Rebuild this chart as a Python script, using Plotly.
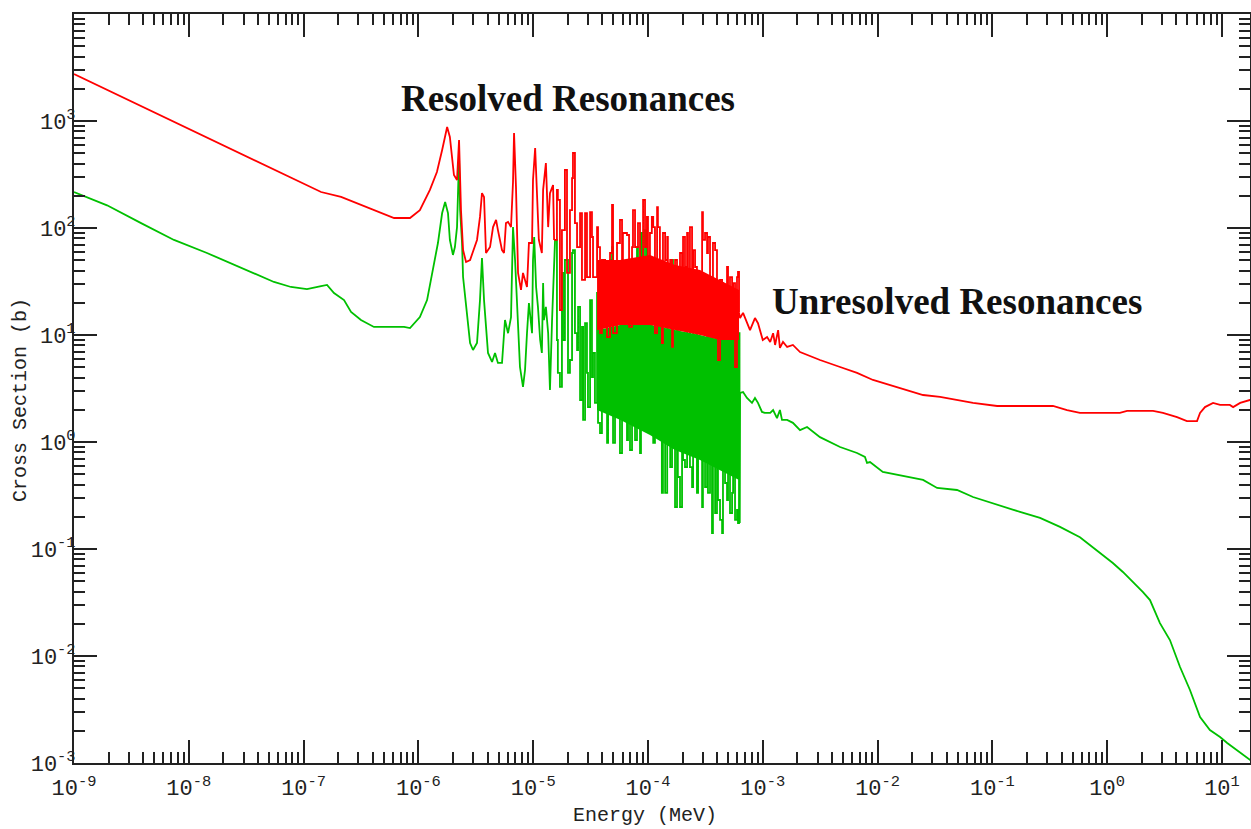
import plotly.graph_objects as go

# ---------------- data ----------------
# Total cross section (red), energy in MeV, cross section in barns
e_total = [
    1e-9, 1.42e-7, 2.12e-7, 4.10e-7, 6.14e-7, 8.45e-7, 1.03e-6, 1.26e-6, 1.45e-6, 1.61e-6,
    1.78e-6, 1.88e-6, 1.96e-6, 2.04e-6, 2.17e-6, 2.26e-6, 2.35e-6, 2.45e-6, 2.60e-6, 2.82e-6,
    3.24e-6, 3.44e-6, 3.58e-6, 3.73e-6, 3.88e-6, 4.21e-6, 4.47e-6, 4.75e-6, 4.93e-6, 5.35e-6,
    5.57e-6, 5.79e-6, 6.04e-6, 6.41e-6, 6.67e-6, 6.81e-6, 7.08e-6, 7.38e-6, 7.83e-6, 8.15e-6,
    8.83e-6, 9.18e-6, 9.77e-6, 9.96e-6, 1.04e-5, 1.08e-5, 1.12e-5, 1.19e-5, 1.22e-5, 1.29e-5,
    1.35e-5, 1.40e-5, 1.49e-5, 1.52e-5, 1.61e-5,
    1.64e-5, 1.71e-5, 1.78e-5, 1.89e-5, 1.97e-5, 2.09e-5, 2.18e-5, 2.22e-5, 2.31e-5, 2.41e-5,
    2.56e-5, 2.66e-5, 2.83e-5, 2.94e-5, 3.13e-5, 3.25e-5, 3.32e-5, 3.60e-5, 3.67e-5, 3.82e-5,
    3.97e-5, 4.23e-5, 4.40e-5, 4.67e-5, 4.86e-5, 4.96e-5, 5.37e-5, 5.70e-5, 5.94e-5, 6.05e-5,
    6.56e-5, 6.84e-5, 7.26e-5, 7.40e-5, 7.71e-5, 8.18e-5, 8.52e-5,
    9.06e-5, 9.42e-5, 9.79e-5, 1.00e-4, 1.04e-4, 1.08e-4, 1.11e-4, 1.15e-4, 1.20e-4, 1.22e-4,
    1.27e-4, 1.32e-4, 1.35e-4, 1.41e-4, 1.47e-4, 1.49e-4, 1.56e-4, 1.62e-4, 1.65e-4, 1.72e-4,
    1.79e-4, 1.82e-4, 1.90e-4, 1.98e-4, 2.02e-4, 2.10e-4, 2.19e-4, 2.23e-4, 2.32e-4, 2.42e-4,
    2.47e-4, 2.57e-4, 2.67e-4, 2.84e-4, 2.96e-4, 3.01e-4, 3.14e-4, 3.27e-4, 3.33e-4, 3.47e-4,
    3.61e-4, 3.68e-4, 3.84e-4, 3.99e-4, 4.07e-4, 4.24e-4, 4.42e-4, 4.50e-4, 4.69e-4, 4.88e-4,
    4.98e-4, 5.18e-4, 5.40e-4, 5.51e-4, 5.73e-4, 5.96e-4, 6.08e-4, 6.21e-4,
    6.34e-4, 6.73e-4, 7.28e-4, 7.74e-4, 8.55e-4, 9.08e-4, 1.00e-3, 1.09e-3, 1.16e-3, 1.23e-3,
    1.28e-3, 1.36e-3, 1.41e-3, 1.50e-3, 1.63e-3, 1.83e-3, 2.11e-3, 3.15e-3, 4.71e-3, 6.62e-3,
    9.12e-3, 1.28e-2, 1.80e-2, 2.49e-2, 3.50e-2, 4.92e-2, 6.78e-2, 0.110, 0.337, 0.447,
    0.579, 1.29, 1.49, 2.51, 3.06, 4.06, 4.95, 6.06, 6.44, 7.11,
    8.36, 9.62, 11.7, 12.5, 14.4, 17.5, 20.0,
]
s_total = [
    2750, 217, 195, 147, 124, 124, 147, 227, 334, 536,
    879, 710, 461, 313, 281, 665, 147, 62.2, 48.1, 50.2,
    77.3, 127, 212, 195, 58.4, 66.4, 102, 119, 95.7, 62.2,
    58.4, 111, 114, 102, 269, 773, 242, 38.0, 26.4, 38.0,
    28.1, 72.4, 72.4, 281, 560, 183, 77.3, 58.4, 227, 405,
    102, 212, 252, 77.3, 227,
    183, 17.1, 95.7, 349, 38.0, 147, 293, 502, 111, 66.4,
    138, 32.7, 138, 34.8, 141, 82.4, 34.8, 102, 66.4, 10.4,
    50.2, 13.8, 9.57, 58.4, 164, 10.4, 72.4, 119, 50.2, 89.8,
    86.0, 11.9, 66.4, 147, 66.4, 111, 14.7,
    183, 66.4, 127, 30.6, 89.8, 127, 102, 10.4, 157, 102,
    17.1, 8.41, 89.8, 50.2, 82.4, 24.7, 50.2, 7.73, 43.2, 50.2,
    17.1, 11.9, 58.4, 43.2, 82.4, 43.2, 89.8, 18.3, 102, 11.9,
    62.2, 43.2, 24.7, 28.1, 141, 77.3, 89.8, 58.4, 82.4, 17.1,
    21.2, 72.4, 62.2, 22.6, 5.84, 32.7, 30.6, 11.9, 21.2, 43.2,
    18.3, 34.8, 11.9, 30.6, 5.02, 34.8, 38.8, 16.1,
    14.4, 16.1, 12.9, 11.1, 14.4, 12.9, 8.98, 9.57, 8.61, 10.4,
    8.07, 11.1, 7.57, 8.61, 7.73, 8.07, 6.93, 5.84, 5.02, 4.42,
    3.80, 3.41, 3.06, 2.75, 2.64, 2.47, 2.32, 2.17, 2.17, 1.99,
    1.87, 1.87, 1.95, 1.95, 1.87, 1.71, 1.57, 1.57, 1.87, 2.12,
    2.32, 2.22, 2.22, 2.12, 2.32, 2.47, 2.50,
]

# Second reaction (green), energy in MeV, cross section in barns
e_capture = [
    1e-9, 1.94e-9, 3.84e-9, 7.43e-9, 1.44e-8, 2.85e-8, 5.52e-8, 7.76e-8, 1.07e-7, 1.42e-7,
    1.60e-7, 1.84e-7, 2.25e-7, 2.59e-7, 3.16e-7, 4.10e-7, 7.50e-7,
    8.45e-7, 1.03e-6, 1.19e-6, 1.34e-6, 1.48e-6, 1.61e-6, 1.71e-6, 1.81e-6, 1.88e-6, 2.00e-6,
    2.08e-6, 2.17e-6, 2.26e-6, 2.31e-6, 2.40e-6, 2.45e-6, 2.65e-6, 2.82e-6, 2.99e-6, 3.24e-6,
    3.44e-6, 3.58e-6, 3.73e-6, 3.88e-6, 4.04e-6, 4.38e-6, 4.65e-6, 4.93e-6, 5.35e-6, 5.68e-6,
    6.04e-6, 6.41e-6, 6.67e-6, 6.95e-6, 7.23e-6, 7.67e-6, 8.15e-6, 8.49e-6, 8.83e-6, 9.18e-6,
    9.77e-6, 9.96e-6, 1.02e-5, 1.06e-5, 1.10e-5, 1.15e-5, 1.19e-5, 1.22e-5, 1.24e-5, 1.29e-5,
    1.35e-5, 1.40e-5, 1.46e-5, 1.55e-5, 1.61e-5, 1.64e-5, 1.71e-5, 1.78e-5, 1.82e-5, 1.89e-5,
    2.01e-5, 2.09e-5, 2.18e-5, 2.22e-5, 2.31e-5, 2.41e-5, 2.46e-5, 2.56e-5, 2.66e-5, 2.72e-5,
    2.83e-5, 2.94e-5, 3.00e-5, 3.13e-5, 3.25e-5, 3.32e-5, 3.45e-5, 3.60e-5, 3.67e-5, 3.82e-5,
    3.97e-5, 4.06e-5, 4.23e-5, 4.40e-5, 4.49e-5, 4.67e-5, 4.86e-5, 4.96e-5, 5.16e-5, 5.37e-5,
    5.48e-5, 5.70e-5, 5.94e-5, 6.05e-5, 6.31e-5, 6.56e-5, 6.70e-5, 6.97e-5, 7.26e-5, 7.40e-5,
    7.71e-5, 8.02e-5, 8.18e-5, 8.52e-5, 8.69e-5, 8.87e-5, 9.06e-5, 9.42e-5, 9.79e-5, 1.00e-4,
    1.04e-4, 1.08e-4, 1.11e-4, 1.15e-4, 1.20e-4, 1.22e-4, 1.27e-4, 1.32e-4, 1.35e-4, 1.41e-4,
    1.47e-4, 1.49e-4, 1.56e-4, 1.62e-4, 1.65e-4, 1.72e-4, 1.79e-4, 1.82e-4, 1.90e-4, 1.98e-4,
    2.02e-4, 2.10e-4, 2.19e-4, 2.23e-4, 2.32e-4, 2.42e-4, 2.47e-4, 2.57e-4, 2.67e-4, 2.73e-4,
    2.84e-4, 2.96e-4, 3.01e-4, 3.14e-4, 3.27e-4, 3.33e-4, 3.47e-4, 3.61e-4, 3.68e-4, 3.84e-4,
    3.99e-4, 4.07e-4, 4.24e-4, 4.42e-4, 4.50e-4, 4.69e-4, 4.88e-4, 4.98e-4, 5.18e-4, 5.40e-4,
    5.51e-4, 5.73e-4, 5.96e-4, 6.08e-4, 6.21e-4, 6.27e-4,
    6.34e-4, 6.73e-4, 7.28e-4, 8.05e-4, 8.55e-4, 9.08e-4, 9.84e-4, 1.04e-3, 1.16e-3, 1.23e-3,
    1.33e-3, 1.41e-3, 1.47e-3, 1.63e-3, 1.83e-3, 2.11e-3, 2.43e-3, 3.15e-3, 4.71e-3, 6.62e-3,
    7.76e-3, 8.09e-3, 8.59e-3, 1.11e-2, 1.80e-2, 2.49e-2, 3.30e-2, 4.92e-2, 6.78e-2, 0.110,
    0.174, 0.260, 0.388, 0.579, 0.865, 1.12, 1.37, 1.68, 2.05, 2.36,
    2.88, 3.52, 4.31, 5.26, 6.44, 7.85, 9.62, 11.1, 14.4, 17.5, 20.0,
]
s_capture = [
    217, 163, 111, 77.3, 58.4, 42.3, 31.3, 28.1, 26.9, 28.7,
    29.4, 24.7, 21.2, 16.4, 13.8, 11.9, 11.9,
    11.6, 14.7, 21.2, 40.6, 72.4, 138, 175, 138, 77.3, 56.0,
    66.4, 102, 461, 147, 72.4, 34.8, 16.1, 8.41, 7.24, 8.41,
    21.2, 52.5, 21.2, 11.9, 6.79, 5.60, 6.79, 5.48, 5.48, 13.8,
    10.4, 14.7, 102, 50.2, 22.6, 5.02, 3.27, 4.71, 10.4, 19.9,
    10.4, 50.2, 82.4, 28.1, 18.3, 8.98, 6.79, 30.6, 13.8, 18.3,
    10.4, 3.06, 13.8, 77.3, 8.98, 4.42, 3.27, 38.0, 8.98, 50.2,
    4.42, 5.84, 58.4, 62.2, 10.4, 7.24, 18.3, 2.47, 11.9, 1.61,
    12.9, 4.42, 2.12, 21.2, 4.05, 6.79, 2.32, 24.7, 1.51, 1.21,
    9.57, 2.32, 6.79, 0.98, 7.24, 50.2, 66.4, 0.98, 8.98, 2.47,
    5.02, 0.789, 7.24, 1.87, 47.1, 1.04, 5.48, 0.842, 17.1, 1.61,
    1.04, 66.4, 7.73, 0.789, 89.8, 40.6, 1.29, 95.7, 1.71, 11.9,
    38.0, 1.87, 0.98, 2.47, 7.73, 11.9, 3.06, 0.334, 6.79, 0.334,
    34.8, 6.22, 0.583, 50.2, 0.898, 0.247, 24.7, 0.471, 0.247, 10.4,
    0.679, 0.583, 32.7, 13.8, 0.583, 0.379, 21.2, 11.9, 0.334, 0.724,
    0.789, 0.247, 8.41, 0.379, 22.6, 0.334, 19.9, 0.141, 11.9, 0.217,
    10.4, 0.287, 0.187, 0.141, 6.22, 0.414, 0.287, 14.7, 0.217, 0.334,
    11.9, 0.187, 0.232, 0.175, 10.4, 0.175,
    2.87, 2.93, 2.58, 2.32, 2.58, 2.32, 1.91, 1.87, 1.87, 1.99,
    1.67, 1.99, 1.61, 1.61, 1.51, 1.29, 1.38, 1.11, 0.898, 0.789,
    0.724, 0.637, 0.65, 0.525, 0.471, 0.442, 0.372, 0.356, 0.306, 0.258,
    0.222, 0.195, 0.161, 0.129, 0.0918, 0.0740, 0.0610, 0.0492, 0.0396, 0.0333,
    0.0203, 0.0141, 0.00789, 0.00481, 0.00269, 0.00203, 0.00175, 0.00154, 0.00124, 0.00107, 0.00098,
]

# Dense (unresolvable by eye) part of the resonance region: inner envelopes
band_energy = [3.60e-5, 5.70e-5, 1.04e-4, 1.72e-4, 2.84e-4, 4.24e-4, 6.21e-4]
band_total_upper = [50.2, 50.2, 56.0, 45.1, 40.6, 32.7, 26.4]
band_boundary = [11.1, 12.4, 12.4, 11.1, 10.0, 8.98, 8.98]   # where red gives way to green
band_capture_lower = [1.99, 1.61, 1.16, 0.842, 0.679, 0.547, 0.442]

# Boundaries of the resolved-resonance region (MeV)
dense_start = 1.6e-5
resolved_end = 6.27e-4

x_tick_vals = [1e-9, 1e-8, 1e-7, 1e-6, 1e-5, 1e-4, 1e-3, 1e-2, 1e-1, 1e0, 1e1]
x_tick_text = ["10<sup>-9</sup>", "10<sup>-8</sup>", "10<sup>-7</sup>", "10<sup>-6</sup>",
               "10<sup>-5</sup>", "10<sup>-4</sup>", "10<sup>-3</sup>", "10<sup>-2</sup>",
               "10<sup>-1</sup>", "10<sup>0</sup>", "10<sup>1</sup>"]
y_tick_vals = [1e-3, 1e-2, 1e-1, 1e0, 1e1, 1e2, 1e3]
y_tick_text = ["10<sup>-3</sup>", "10<sup>-2</sup>", "10<sup>-1</sup>", "10<sup>0</sup>",
               "10<sup>1</sup>", "10<sup>2</sup>", "10<sup>3</sup>"]

RED = "#ff0000"
GREEN = "#00c000"
AXIS_FONT = "Liberation Mono"
TEXT_COLOR = "#222"


def split_segments(energies, sigmas):
    """Split a curve into smooth part, dense spiky resonance part and smooth high part."""
    pts = list(zip(energies, sigmas))
    low = [p for p in pts if p[0] <= dense_start]
    mid = [p for p in pts if dense_start <= p[0] <= resolved_end]
    high = [p for p in pts if p[0] >= resolved_end]
    if low and mid:
        mid = [low[-1]] + mid
    if mid and high:
        high = [mid[-1]] + high
    return low, mid, high


def band_trace(upper, lower, color):
    return go.Scatter(
        x=band_energy + band_energy[::-1], y=upper + lower[::-1],
        mode="lines", fill="toself", fillcolor=color,
        line=dict(color=color, width=0), showlegend=False, hoverinfo="skip")


fig = go.Figure()
# green drawn first, red (total, always above) drawn on top
curves = [
    (e_capture, s_capture, GREEN, band_boundary, band_capture_lower),
    (e_total, s_total, RED, band_total_upper, band_boundary),
]
for energies, sigmas, color, b_up, b_lo in curves:
    fig.add_trace(band_trace(b_up, b_lo, color))
    low, mid, high = split_segments(energies, sigmas)
    for seg, shape in [(low, "linear"), (mid, "hv"), (high, "linear")]:
        fig.add_trace(go.Scatter(
            x=[p[0] for p in seg], y=[p[1] for p in seg], mode="lines",
            line=dict(color=color, width=1.8, shape=shape), showlegend=False,
            hoverinfo="skip"))

axis_common = dict(
    type="log", showgrid=False, zeroline=False, automargin=False,
    showline=True, linecolor=TEXT_COLOR, linewidth=2, mirror="allticks",
    ticks="inside", ticklen=23, tickwidth=2, tickcolor=TEXT_COLOR,
    minor=dict(ticks="inside", ticklen=11, tickwidth=2, tickcolor=TEXT_COLOR,
               dtick="D1", showgrid=False),
    tickfont=dict(family=AXIS_FONT, size=22, color=TEXT_COLOR),
)

fig.update_xaxes(**axis_common, range=[-9, 1.244], tickmode="array",
                 tickvals=x_tick_vals, ticktext=x_tick_text, ticklabelstandoff=4)
fig.update_yaxes(**axis_common, range=[-3, 4], tickmode="array",
                 tickvals=y_tick_vals, ticktext=y_tick_text, ticklabelstandoff=-8)

# axis titles
fig.add_annotation(text="Energy (MeV)", xref="paper", yref="paper",
                   x=(645 - 74) / 1176, y=(763 - 815) / 749, showarrow=False,
                   xanchor="center", yanchor="middle",
                   font=dict(family=AXIS_FONT, size=20, color=TEXT_COLOR))
fig.add_annotation(text="Cross Section (b)", xref="paper", yref="paper",
                   x=(20 - 74) / 1176, y=(763 - 400) / 749, showarrow=False,
                   textangle=-90, xanchor="center", yanchor="middle",
                   font=dict(family=AXIS_FONT, size=20, color=TEXT_COLOR))

# region labels
fig.add_annotation(text="<b>Resolved Resonances</b>", xref="paper", yref="paper",
                   x=(568 - 74) / 1176, y=(763 - 98) / 749, showarrow=False,
                   xanchor="center", yanchor="middle",
                   font=dict(family="Liberation Serif", size=37, color="#111"))
fig.add_annotation(text="<b>Unresolved Resonances</b>", xref="paper", yref="paper",
                   x=(957 - 74) / 1176, y=(763 - 302) / 749, showarrow=False,
                   xanchor="center", yanchor="middle",
                   font=dict(family="Liberation Serif", size=37, color="#111"))

fig.update_layout(
    width=1251, height=829,
    margin=dict(l=74, r=1, t=14, b=66, autoexpand=False),
    paper_bgcolor="white", plot_bgcolor="white",
)

fig.write_html("out.html", config={"displayModeBar": False},
               post_script="document.body.style.margin='0';document.body.style.padding='0';")
